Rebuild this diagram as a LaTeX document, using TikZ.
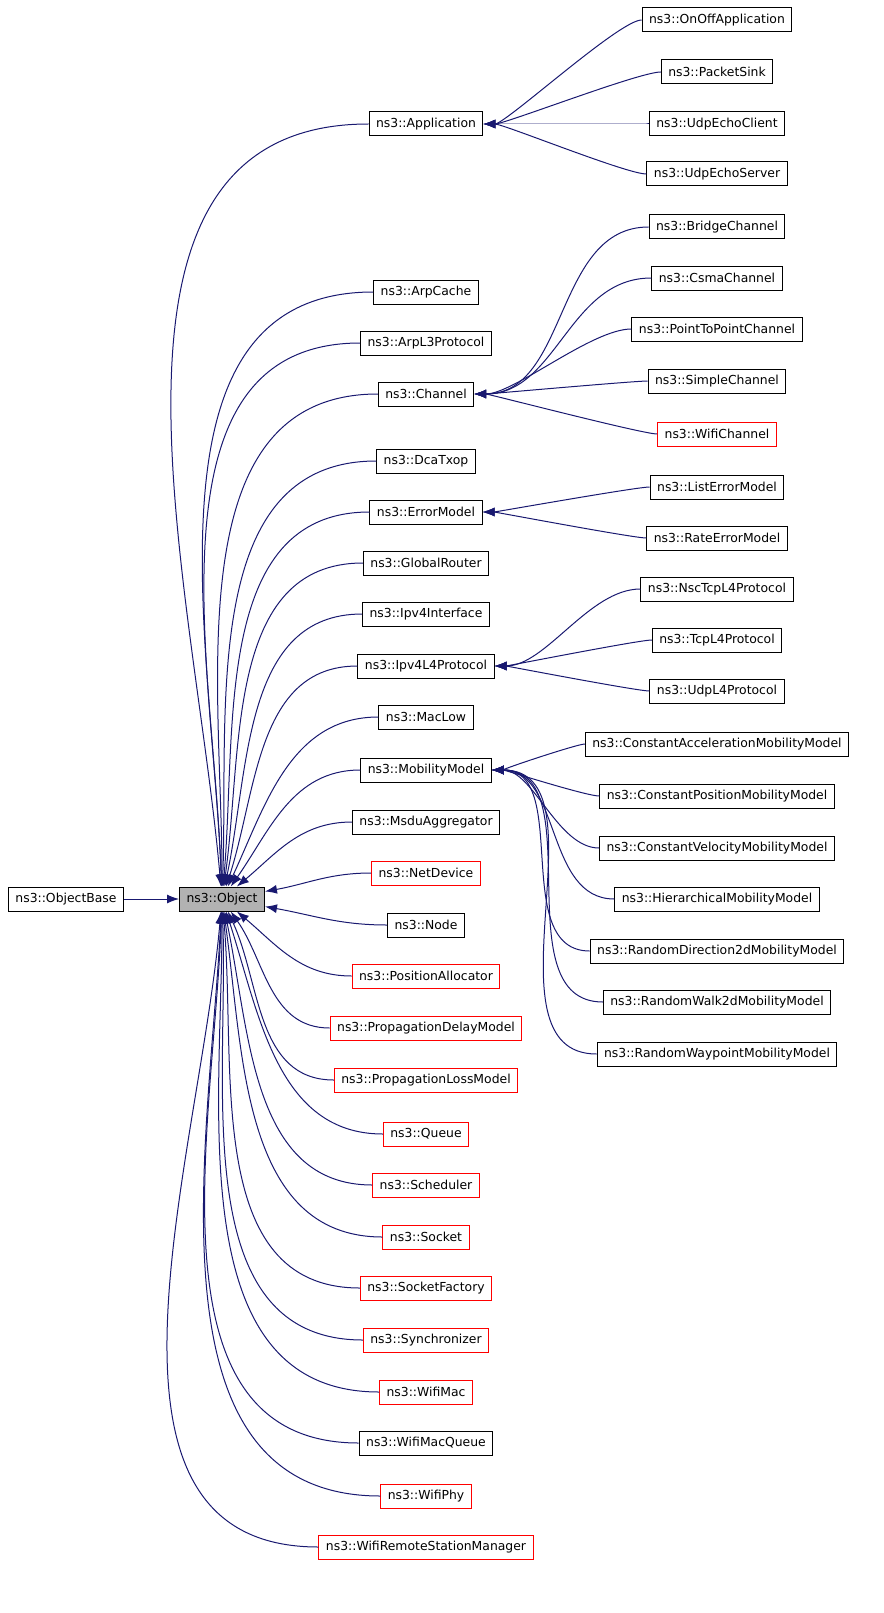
\documentclass[tikz,border=0pt]{standalone}
\usepackage{fontspec}
\setmainfont{DejaVu Sans}
\usetikzlibrary{arrows.meta}
\definecolor{edgeblue}{HTML}{191970}
\tikzset{
  nd/.style={draw=black,line width=1pt,rectangle,minimum height=24pt,inner xsep=7pt,inner ysep=2pt,font=\fontsize{12.4}{14}\selectfont},
  rd/.style={nd,draw=red},
  ed/.style={draw=edgeblue,line width=1pt,-{Latex[length=12pt,width=9pt]}}
}
\begin{document}
\begin{tikzpicture}[x=1pt,y=-1pt]
	\useasboundingbox (0,0) rectangle (883,1613);
	\node[nd] (objbase) at (66,899) {ns3::ObjectBase};
	\node[nd,fill=black!30] (obj) at (222,899) {ns3::Object};
	\draw[ed] (objbase) -- (obj);
	% direct children of Object
	\foreach \n/\t/\y/\s/\a in {app/Application/124/nd/95, arpc/ArpCache/292/nd/92, arpl3/ArpL3Protocol/343/nd/92,
		chan/Channel/394/nd/90, dca/DcaTxop/461/nd/88, err/ErrorModel/512/nd/85, grt/GlobalRouter/563/nd/82,
		ipif/Ipv4Interface/614/nd/78, ipl4/Ipv4L4Protocol/666/nd/72, mac/MacLow/717/nd/65,
		mob/MobilityModel/770/nd/55, msdu/MsduAggregator/822/nd/40, netd/NetDevice/873/rd/10, node/Node/925/nd/-10,
		pos/PositionAllocator/976/rd/-40, pdel/PropagationDelayModel/1028/rd/-55, ploss/PropagationLossModel/1080/rd/-65,
		que/Queue/1134/rd/-72, sch/Scheduler/1185/rd/-78, sock/Socket/1237/rd/-82, sockf/SocketFactory/1288/rd/-85,
		sync/Synchronizer/1340/rd/-88, wmac/WifiMac/1392/rd/-90, wmq/WifiMacQueue/1443/nd/-92,
		wphy/WifiPhy/1496/rd/-93, wrsm/WifiRemoteStationManager/1547/rd/-95}
	{
		\node[\s] (\n) at (426,\y) {ns3::\t};
		\draw[ed] (\n.west) to[out=180,in=\a] (obj);
	}
	% children of Application
	\foreach \n/\t/\y in {onoff/OnOffApplication/20, psink/PacketSink/72, uecl/UdpEchoClient/124, uesv/UdpEchoServer/174}
	{
		\node[nd] (\n) at (717,\y) {ns3::\t};
		\draw[ed] (\n.west) to[out=180,in=0,looseness=0.3] (app);
	}
	% children of Channel
	\foreach \n/\t/\y/\s/\l in {brch/BridgeChannel/227/nd/1, csch/CsmaChannel/278/nd/1, p2pch/PointToPointChannel/329/nd/0.6,
		simch/SimpleChannel/381/nd/0.2, wfch/WifiChannel/434/rd/0.2}
	{
		\node[\s] (\n) at (717,\y) {ns3::\t};
		\draw[ed] (\n.west) to[out=180,in=0,looseness=\l] (chan);
	}
	% children of ErrorModel
	\foreach \n/\t/\y in {lerr/ListErrorModel/487, rerr/RateErrorModel/538}
	{
		\node[nd] (\n) at (717,\y) {ns3::\t};
		\draw[ed] (\n.west) to[out=180,in=0,looseness=0.2] (err);
	}
	% children of Ipv4L4Protocol
	\foreach \n/\t/\y/\l in {nsctcp/NscTcpL4Protocol/589/0.8, tcpl4/TcpL4Protocol/640/0.2, udpl4/UdpL4Protocol/691/0.2}
	{
		\node[nd] (\n) at (717,\y) {ns3::\t};
		\draw[ed] (\n.west) to[out=180,in=0,looseness=\l] (ipl4);
	}
	% children of MobilityModel
	\foreach \n/\t/\y/\l in {cacc/ConstantAccelerationMobilityModel/744/0.2, cpos/ConstantPositionMobilityModel/796/0.3,
		cvel/ConstantVelocityMobilityModel/848/0.8, hier/HierarchicalMobilityModel/899/1,
		rdir/RandomDirection2dMobilityModel/951/1, rwalk/RandomWalk2dMobilityModel/1002/1,
		rwp/RandomWaypointMobilityModel/1054/1}
	{
		\node[nd] (\n) at (717,\y) {ns3::\t};
		\draw[ed] (\n.west) to[out=180,in=0,looseness=\l] (mob);
	}
\end{tikzpicture}
\end{document}
